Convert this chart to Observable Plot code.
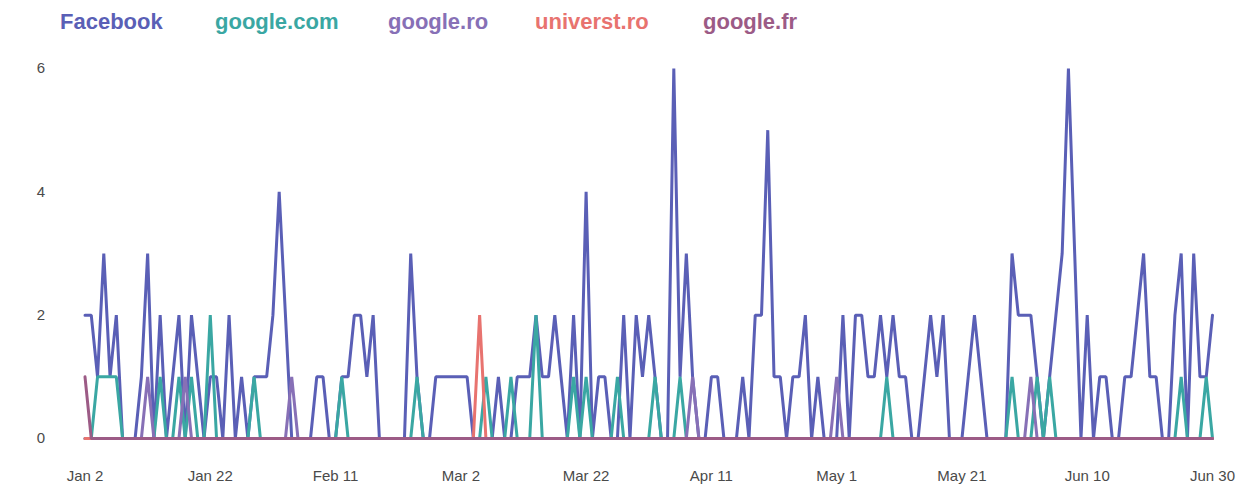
<!DOCTYPE html>
<html><head><meta charset="utf-8">
<script src="https://cdn.jsdelivr.net/npm/d3@7"></script>
<script src="https://cdn.jsdelivr.net/npm/@observablehq/plot@0.6"></script>
<style>
body{margin:0;background:#fff;font-family:"Liberation Sans",Arial,sans-serif;}
#legend{position:relative;height:45px;}
#legend span{position:absolute;top:10px;font-size:22px;font-weight:bold;line-height:24px;white-space:nowrap;}
#chart svg{display:block;}
</style></head><body>
<div id="legend"></div>
<div id="chart"></div>
<script>
const seriesNames = ["Facebook", "google.com", "google.ro", "universt.ro", "google.fr"];
const seriesColors = ["#5a5fb6", "#3aa7a3", "#8770b6", "#e8736f", "#9c5b86"];
const startDate = "2016-01-02";
const endDate = "2016-06-30";
const yTicks = [0, 2, 4, 6];

const facebook = [
 2,2,1,3,1,2,0,0,0,1, 3,0,2,0,1,2,0,2,1,0,
 1,1,0,2,0,1,0,1,1,1, 2,4,2,0,0,0,0,1,1,0,
 0,1,1,2,2,1,2,0,0,0, 0,0,3,1,0,0,1,1,1,1,
 1,1,0,0,0,0,1,0,0,1, 1,1,2,1,1,2,1,0,2,0,
 4,0,1,1,0,0,2,0,2,1, 2,1,0,0,6,1,3,1,0,0,
 1,1,0,0,0,1,0,2,2,5, 1,1,0,1,1,2,0,1,0,0,
 0,2,0,2,2,1,1,2,1,2, 1,1,0,0,1,2,1,2,0,0,
 0,1,2,1,0,0,0,0,3,2, 2,2,1,0,1,2,3,6,3,0,
 2,0,1,1,0,0,1,1,2,3, 1,1,0,0,2,3,0,3,1,1,
 2
];
const googleCom = [
 0,0,1,1,1,1,0,0,0,0, 0,0,1,0,0,1,0,1,0,0,
 2,0,0,0,0,0,0,1,0,0, 0,0,0,0,0,0,0,0,0,0,
 0,1,0,0,0,0,0,0,0,0, 0,0,0,1,0,0,0,0,0,0,
 0,0,0,0,1,0,0,0,1,0, 0,0,2,0,0,0,0,0,1,0,
 1,0,0,0,0,1,0,0,0,0, 0,1,0,0,0,1,0,0,0,0,
 0,0,0,0,0,0,0,0,0,0, 0,0,0,0,0,0,0,0,0,0,
 0,0,0,0,0,0,0,0,1,0, 0,0,0,0,0,0,0,0,0,0,
 0,0,0,0,0,0,0,0,1,0, 0,0,1,0,1,0,0,0,0,0,
 0,0,0,0,0,0,0,0,0,0, 0,0,0,0,0,1,0,0,0,1,
 0
];
const googleRo = [
 0,0,0,0,0,0,0,0,0,0, 1,0,0,0,0,0,1,0,0,0,
 0,0,0,0,0,0,0,0,0,0, 0,0,0,1,0,0,0,0,0,0,
 0,0,0,0,0,0,0,0,0,0, 0,0,0,0,0,0,0,0,0,0,
 0,0,0,0,0,0,0,0,0,0, 0,0,0,0,0,0,0,0,0,0,
 0,0,0,0,0,0,0,0,0,0, 0,0,0,0,0,0,0,1,0,0,
 0,0,0,0,0,0,0,0,0,0, 0,0,0,0,0,0,0,0,0,0,
 1,0,0,0,0,0,0,0,0,0, 0,0,0,0,0,0,0,0,0,0,
 0,0,0,0,0,0,0,0,0,0, 0,1,0,0,0,0,0,0,0,0,
 0,0,0,0,0,0,0,0,0,0, 0,0,0,0,0,0,0,0,0,0,
 0
];
const universtRo = [
 0,0,0,0,0,0,0,0,0,0, 0,0,0,0,0,0,0,0,0,0,
 0,0,0,0,0,0,0,0,0,0, 0,0,0,0,0,0,0,0,0,0,
 0,0,0,0,0,0,0,0,0,0, 0,0,0,0,0,0,0,0,0,0,
 0,0,0,2,0,0,0,0,0,0, 0,0,0,0,0,0,0,0,0,0,
 0,0,0,0,0,0,0,0,0,0, 0,0,0,0,0,0,0,0,0,0,
 0,0,0,0,0,0,0,0,0,0, 0,0,0,0,0,0,0,0,0,0,
 0,0,0,0,0,0,0,0,0,0, 0,0,0,0,0,0,0,0,0,0,
 0,0,0,0,0,0,0,0,0,0, 0,0,0,0,0,0,0,0,0,0,
 0,0,0,0,0,0,0,0,0,0, 0,0,0,0,0,0,0,0,0,0,
 0
];
const googleFr = [
 1,0,0,0,0,0,0,0,0,0, 0,0,0,0,0,0,0,0,0,0,
 0,0,0,0,0,0,0,0,0,0, 0,0,0,0,0,0,0,0,0,0,
 0,0,0,0,0,0,0,0,0,0, 0,0,0,0,0,0,0,0,0,0,
 0,0,0,0,0,0,0,0,0,0, 0,0,0,0,0,0,0,0,0,0,
 0,0,0,0,0,0,0,0,0,0, 0,0,0,0,0,0,0,0,0,0,
 0,0,0,0,0,0,0,0,0,0, 0,0,0,0,0,0,0,0,0,0,
 0,0,0,0,0,0,0,0,0,0, 0,0,0,0,0,0,0,0,0,0,
 0,0,0,0,0,0,0,0,0,0, 0,0,0,0,0,0,0,0,0,0,
 0,0,0,0,0,0,0,0,0,0, 0,0,0,0,0,0,0,0,0,0,
 0
];
const seriesValues = [facebook, googleCom, googleRo, universtRo, googleFr];

// layout (legend item left edges, px)
const legendLeft = [60, 215, 388, 535, 703];

const dates = d3.utcDay.range(new Date(startDate), d3.utcDay.offset(new Date(endDate), 1));
const xTicks = dates.filter((d, i) => i % 20 === 0);

const legend = d3.select("#legend");
seriesNames.forEach((n, i) => legend.append("span")
  .style("color", seriesColors[i]).style("left", legendLeft[i] + "px").text(n));

const rowsFor = (vals, name) => vals.map((v, i) => ({name, date: dates[i], value: v}));

const chart = Plot.plot({
  width: 1252,
  height: 446,
  marginTop: 23,
  marginBottom: 53,
  marginLeft: 84.5,
  marginRight: 40,
  style: {fontSize: "15px", fontFamily: "'Liberation Sans', Arial, sans-serif", color: "#4a4a4a", background: "#fff"},
  x: {type: "utc", domain: [dates[0], dates[dates.length - 1]], ticks: xTicks, tickFormat: d3.utcFormat("%b %-d"), tickSize: 0, tickPadding: 32, label: null},
  y: {domain: [0, 6], ticks: yTicks, tickFormat: d3.format("d"), tickSize: 0, tickPadding: 40, label: null},
  color: {domain: seriesNames, range: seriesColors},
  marks: seriesNames.map((n, i) =>
    Plot.lineY(rowsFor(seriesValues[i], n), {x: "date", y: "value", stroke: "name", strokeWidth: 3, strokeLinejoin: "miter"})
  )
});
document.getElementById("chart").appendChild(chart);
</script>
</body></html>
